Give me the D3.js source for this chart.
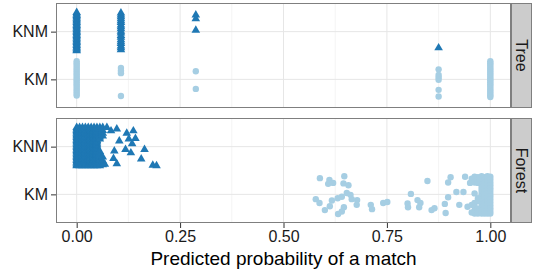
<!DOCTYPE html>
<html>
<head>
<meta charset="utf-8">
<script src="https://cdn.jsdelivr.net/npm/d3@7"></script>
<style>
  body { margin: 0; background: #fff; }
  svg { display: block; font-family: "Liberation Sans", Arial, sans-serif; }
</style>
</head>
<body>
<svg id="chart" width="535" height="273"></svg>
<script>
// categories, facets and ticks
const categories = ["KNM", "KM"];
const facets = ["Tree", "Forest"];
const xTicks = [0, 0.25, 0.5, 0.75, 1];
const xMinor = [0.125, 0.375, 0.625, 0.875];
const xTitle = "Predicted probability of a match";

// jitter values (category units) of the crowded columns, top to bottom
const crowdedJ = [0.40, 0.37, 0.34, 0.31, 0.28, 0.25, 0.22, 0.19, 0.16, 0.13, 0.10, 0.07, 0.04, 0.01,
  -0.02, -0.05, -0.08, -0.11, -0.14, -0.17, -0.20, -0.23, -0.26, -0.29, -0.32, -0.35, -0.38, -0.40];

// points as [probability, [vertical jitter ...]]
const treeKNM = [
  [0, crowdedJ],
  [0.107, [0.39, 0.35, 0.31, 0.27, 0.23, 0.19, 0.14, 0.10, 0.06, 0.01, -0.03, -0.08, -0.12, -0.17,
    -0.21, -0.25, -0.30, -0.34, -0.38]],
  [0.288, [0.35, 0.27, 0.03]],
  [0.875, [-0.34]]
];
const treeKM = [
  [0, [0.38, 0.34, 0.30, 0.26, 0.22, 0.18, 0.14, 0.10, 0.06, 0.02, -0.02, -0.06, -0.10, -0.14,
    -0.18, -0.22, -0.26, -0.30, -0.34]],
  [0.107, [0.24, 0.18, 0.13, -0.35]],
  [0.288, [0.17, -0.20]],
  [0.875, [0.21, 0.09, 0.04, -0.01, -0.22, -0.36]],
  [1, [0.38, 0.34, 0.30, 0.26, 0.22, 0.18, 0.14, 0.10, 0.06, 0.02, -0.02, -0.06, -0.10, -0.14,
    -0.18, -0.22, -0.26, -0.30, -0.34, -0.37]]
];
const forestKNM = [
  [0, crowdedJ], [0.007, crowdedJ], [0.014, crowdedJ], [0.021, crowdedJ],
  [0.028, crowdedJ], [0.035, crowdedJ], [0.042, crowdedJ], [0.049, crowdedJ],
  [0.056, [0.40, 0.36, 0.32, 0.28, 0.24, 0.20, 0.16, -0.10, -0.16, -0.22, -0.28, -0.34, -0.40]],
  [0.063, [0.40, 0.34, 0.28, 0.22, -0.22, -0.30, -0.38]],
  [0.073, [0.40]], [0.083, [0.33]], [0.068, [-0.37]],
  [0.097, [0.37]], [0.121, [0.28]], [0.137, [0.33]], [0.103, [0.12]],
  [0.126, [0.16]], [0.142, [0.17]], [0.134, [0.06]], [0.118, [-0.06]],
  [0.091, [-0.09]], [0.131, [-0.13]], [0.164, [-0.06]], [0.089, [-0.25]],
  [0.156, [-0.26]], [0.097, [-0.36]], [0.184, [-0.39]], [0.193, [-0.40]]
];
const forestKM = [
  [0.588, [0.34]], [0.611, [0.30]], [0.608, [0.22]], [0.620, [0.24]],
  [0.647, [0.38]], [0.645, [0.23]], [0.657, [0.19]], [0.578, [-0.10]],
  [0.587, [-0.18]], [0.617, [-0.13]], [0.631, [-0.08]], [0.641, [-0.05]],
  [0.653, [0.03]], [0.662, [-0.01]], [0.665, [-0.10]], [0.678, [-0.12]],
  [0.612, [-0.25]], [0.600, [-0.33]], [0.646, [-0.27]], [0.641, [-0.36]],
  [0.632, [-0.41]], [0.677, [-0.22]], [0.711, [-0.22]], [0.714, [-0.31]],
  [0.741, [-0.18]], [0.751, [-0.16]], [0.808, [0.01]], [0.800, [-0.19]],
  [0.801, [-0.27]], [0.824, [-0.12]], [0.831, [-0.18]], [0.828, [-0.27]],
  [0.848, [0.28]], [0.858, [-0.33]], [0.865, [-0.29]], [0.890, [-0.20]],
  [0.892, [-0.39]], [0.898, [0.25, -0.06]], [0.904, [0.36]], [0.918, [0.05]],
  [0.925, [-0.22]], [0.935, [0.05]], [0.939, [0.37]], [0.945, [-0.26]],
  [0.951, [0.24]],
  [0.955, [0.33, -0.22, -0.38]],
  [0.962, [0.37, 0.31, 0.25, 0.02, -0.18, -0.26, -0.34, -0.40]],
  [0.970, [0.36, 0.30, 0.24, -0.08, -0.14, -0.30, -0.36, -0.40]],
  [0.979, [0.38, 0.32, 0.26, 0.20, 0.14, 0.08, 0.02, -0.04, -0.10, -0.16, -0.22, -0.28, -0.34, -0.40]],
  [0.986, [0.36, 0.30, 0.24, 0.18, 0.12, 0.06, 0, -0.06, -0.12, -0.18, -0.24, -0.30, -0.36, -0.40]],
  [0.993, [0.38, 0.32, 0.26, 0.20, 0.14, 0.08, 0.02, -0.04, -0.10, -0.16, -0.22, -0.28, -0.34, -0.40]],
  [1, [0.37, 0.31, 0.25, 0.19, 0.13, 0.07, 0.01, -0.05, -0.11, -0.17, -0.23, -0.29, -0.35, -0.40]]
];

const series = {
  Tree: { KNM: treeKNM, KM: treeKM },
  Forest: { KNM: forestKNM, KM: forestKM }
};
const colors = { KNM: "#1f78b4", KM: "#a6cee3" };

const flat = cols => cols.flatMap(([p, js]) => js.map(j => ({ p, j })));

var svg = d3.select("#chart");
var left = 56, right = 511, stripW = 21,
    panelH = 105, panelTops = [3, 118];

var x = d3.scaleLinear().domain([-0.05, 1.05]).range([left, right]);

facets.forEach((facet, fi) => {
  var top = panelTops[fi];
  var y = d3.scalePoint().domain(categories).range([top, top + panelH]).padding(0.6);
  var step = y.step();

  var g = svg.append("g");
  g.append("rect").attr("x", left).attr("y", top).attr("width", right - left).attr("height", panelH)
    .attr("fill", "#fff");

  g.selectAll(".minor").data(xMinor).enter().append("line")
    .attr("x1", d => x(d)).attr("x2", d => x(d)).attr("y1", top).attr("y2", top + panelH)
    .attr("stroke", "#f4f4f4").attr("stroke-width", 1);
  g.selectAll(".majx").data(xTicks).enter().append("line")
    .attr("x1", d => x(d)).attr("x2", d => x(d)).attr("y1", top).attr("y2", top + panelH)
    .attr("stroke", "#e6e6e6").attr("stroke-width", 1);
  g.selectAll(".majy").data(categories).enter().append("line")
    .attr("x1", left).attr("x2", right).attr("y1", d => y(d)).attr("y2", d => y(d))
    .attr("stroke", "#e6e6e6").attr("stroke-width", 1);

  // KM circles
  g.selectAll(".km").data(flat(series[facet].KM)).enter().append("circle")
    .attr("cx", d => x(d.p)).attr("cy", d => y("KM") - d.j * step)
    .attr("r", 3.2).attr("fill", colors.KM);

  // KNM triangles
  var tri = d3.symbol().type(d3.symbolTriangle).size(32);
  g.selectAll(".knm").data(flat(series[facet].KNM)).enter().append("path")
    .attr("d", tri)
    .attr("transform", d => `translate(${x(d.p)},${y("KNM") - d.j * step})`)
    .attr("fill", colors.KNM);

  g.append("rect").attr("x", left + 0.5).attr("y", top + 0.5).attr("width", right - left - 1).attr("height", panelH - 1)
    .attr("fill", "none").attr("stroke", "#7f7f7f");

  // strip
  g.append("rect").attr("x", right + 0.5).attr("y", top + 0.5).attr("width", stripW - 1).attr("height", panelH - 1)
    .attr("fill", "#cccccc").attr("stroke", "#7f7f7f");
  g.append("text")
    .attr("transform", `translate(${right + stripW / 2},${top + panelH / 2}) rotate(90)`)
    .attr("text-anchor", "middle").attr("dy", "0.35em")
    .attr("font-size", 16).attr("fill", "#1a1a1a")
    .text(facet);

  var yAxis = g.append("g").attr("transform", `translate(${left},0)`)
    .call(d3.axisLeft(y).tickSize(5).tickPadding(3));
  yAxis.attr("font-family", null).attr("font-size", null);
  yAxis.select(".domain").remove();
  yAxis.selectAll("text").attr("font-size", 16).attr("fill", "#1a1a1a");
  yAxis.selectAll("line").attr("stroke", "#333");

  if (fi === facets.length - 1) {
    var xAxis = g.append("g").attr("transform", `translate(0,${top + panelH})`)
      .call(d3.axisBottom(x).tickValues(xTicks).tickFormat(d3.format(".2f")).tickSize(5).tickPadding(3));
    xAxis.attr("font-family", null).attr("font-size", null);
    xAxis.select(".domain").remove();
    xAxis.selectAll("text").attr("font-size", 16).attr("fill", "#1a1a1a");
    xAxis.selectAll("line").attr("stroke", "#333");
  }
});

svg.append("text")
  .attr("x", (left + right) / 2).attr("y", 265)
  .attr("text-anchor", "middle").attr("font-size", 19).attr("fill", "#000")
  .text(xTitle);
</script>
</body>
</html>
